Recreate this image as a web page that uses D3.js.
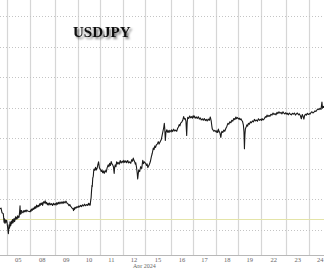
<!DOCTYPE html>
<html>
<head>
<meta charset="utf-8">
<script src="https://cdn.jsdelivr.net/npm/d3@7"></script>
<style>
  body { margin: 0; background: #fff; }
</style>
</head>
<body>
<div id="chart"></div>
<script>
// trading days shown on the axis (weekends removed)
const days = ["2024-04-04", "2024-04-05", "2024-04-08", "2024-04-09", "2024-04-10",
    "2024-04-11", "2024-04-12", "2024-04-15", "2024-04-16", "2024-04-17",
    "2024-04-18", "2024-04-19", "2024-04-22", "2024-04-23", "2024-04-24"];
const priceTicks = [151, 152, 153, 154, 155, 156, 157, 158];
const refLevel = 151.35;
const title = "USDJPY";
const monthLabel = "Apr 2024";

// [day, trading hour within the day, price]
const series = [
    ["04", 16.5, 151.68], ["04", 17.6, 151.70], ["04", 18.6, 151.55], ["04", 20, 151.52], ["04", 20.8, 151.24],
    ["04", 21.3, 151.35], ["04", 21.8, 151.20], ["04", 22.4, 151.31], ["04", 22.9, 151.24], ["04", 23.5, 151.30],
    ["05", 0, 151.22], ["05", 0.7, 151.05], ["05", 1.4, 150.86], ["05", 2.1, 151.15], ["05", 2.6, 151.04],
    ["05", 3.2, 151.25], ["05", 3.8, 151.12], ["05", 4.3, 151.18], ["05", 4.8, 151.28], ["05", 5.3, 151.20],
    ["05", 5.9, 151.33], ["05", 6.4, 151.22], ["05", 6.9, 151.30], ["05", 7.4, 151.36], ["05", 8, 151.26],
    ["05", 8.5, 151.32], ["05", 9.1, 151.42], ["05", 9.6, 151.34], ["05", 10.1, 151.40], ["05", 10.6, 151.35],
    ["05", 11.2, 151.45], ["05", 11.7, 151.38], ["05", 12.3, 151.44], ["05", 12.8, 151.40], ["05", 13.4, 151.60],
    ["05", 13.8, 151.78], ["05", 14.2, 151.50], ["05", 14.6, 151.62], ["05", 15, 151.52], ["05", 15.4, 151.62],
    ["05", 16.2, 151.57], ["05", 17, 151.55], ["05", 17.8, 151.62], ["05", 18.6, 151.58], ["05", 19.4, 151.63],
    ["05", 20.2, 151.58], ["05", 21, 151.64], ["05", 21.8, 151.61],
    ["08", 0.5, 151.58], ["08", 1.1, 151.64], ["08", 1.6, 151.60], ["08", 2.1, 151.67], ["08", 2.9, 151.63],
    ["08", 3.7, 151.70], ["08", 4.5, 151.66], ["08", 5.3, 151.74], ["08", 5.9, 151.69], ["08", 6.4, 151.75],
    ["08", 6.9, 151.71], ["08", 7.4, 151.80], ["08", 8.2, 151.74], ["08", 9, 151.79], ["08", 9.8, 151.75],
    ["08", 10.6, 151.84], ["08", 11.2, 151.79], ["08", 11.9, 151.86], ["08", 12.8, 151.82], ["08", 13.3, 151.88],
    ["08", 13.8, 151.79], ["08", 14.4, 151.86], ["08", 14.9, 151.91], ["08", 15.7, 151.87], ["08", 16.5, 151.94],
    ["08", 17.3, 151.85], ["08", 18.1, 151.89], ["08", 18.9, 151.81], ["08", 19.7, 151.86], ["08", 20.5, 151.80],
    ["08", 21.3, 151.87], ["08", 22.3, 151.81], ["08", 23.4, 151.85], ["08", 24.4, 151.79], ["08", 25.5, 151.86],
    ["08", 26.3, 151.81],
    ["09", 0.5, 151.85], ["09", 1.1, 151.80], ["09", 1.9, 151.88], ["09", 2.7, 151.83], ["09", 3.5, 151.89],
    ["09", 4.3, 151.84], ["09", 5.3, 151.90], ["09", 6.4, 151.85], ["09", 7.4, 151.91], ["09", 8.5, 151.85],
    ["09", 9.5, 151.92], ["09", 10.6, 151.87], ["09", 11.7, 151.93], ["09", 12.8, 151.86], ["09", 13.8, 151.84],
    ["09", 14.9, 151.78], ["09", 15.7, 151.82], ["09", 16.5, 151.76], ["09", 17.3, 151.74], ["09", 18.1, 151.70],
    ["09", 19.1, 151.68], ["09", 19.7, 151.62], ["09", 20.2, 151.70], ["09", 20.8, 151.66], ["09", 21.3, 151.73],
    ["09", 22.3, 151.70], ["09", 23.4, 151.75],
    ["10", 0.5, 151.72], ["10", 1.1, 151.77], ["10", 2.1, 151.74], ["10", 3.2, 151.79], ["10", 4.2, 151.75],
    ["10", 5.3, 151.81], ["10", 6.4, 151.77], ["10", 7.4, 151.83], ["10", 8.5, 151.78], ["10", 9.6, 151.82],
    ["10", 10.6, 151.79], ["10", 11.7, 151.86], ["10", 12.3, 151.80], ["10", 12.8, 151.84], ["10", 13.4, 151.80],
    ["10", 13.8, 151.92], ["10", 14.4, 152.05], ["10", 14.9, 152.30], ["10", 15.3, 152.45], ["10", 15.6, 152.40],
    ["10", 16.1, 152.68], ["10", 16.7, 152.75], ["10", 17.1, 152.92], ["10", 17.5, 152.98], ["10", 18.3, 152.94],
    ["10", 19.1, 153.04], ["10", 19.9, 152.95], ["10", 20.7, 153.00], ["10", 21.5, 153.12], ["10", 22.3, 153.22],
    ["10", 23.2, 153.02],
    ["11", 0.5, 152.96], ["11", 1.1, 152.90], ["11", 1.9, 152.95], ["11", 2.7, 152.86], ["11", 3.5, 152.92],
    ["11", 4.3, 152.84], ["11", 5.3, 152.93], ["11", 6.4, 152.88], ["11", 7.4, 153.02], ["11", 8.5, 153.12],
    ["11", 9.3, 153.06], ["11", 10.1, 153.17], ["11", 10.9, 153.10], ["11", 11.7, 153.23], ["11", 12.5, 153.15],
    ["11", 13.3, 153.12], ["11", 14.1, 153.06], ["11", 14.9, 152.84], ["11", 15.4, 153.04], ["11", 16, 153.12],
    ["11", 16.8, 153.06], ["11", 17.5, 153.22], ["11", 18.3, 153.15], ["11", 19.1, 153.20], ["11", 20.2, 153.14],
    ["11", 21.3, 153.26], ["11", 22.3, 153.18], ["11", 23.4, 153.24],
    ["12", 0.5, 153.19], ["12", 1.1, 153.27], ["12", 2.1, 153.20], ["12", 3.2, 153.25], ["12", 4.2, 153.19],
    ["12", 5.3, 153.26], ["12", 6.4, 153.18], ["12", 7.4, 153.22], ["12", 8.5, 153.17], ["12", 9.6, 153.29],
    ["12", 10.4, 153.24], ["12", 11.2, 153.34], ["12", 12, 153.26], ["12", 12.8, 153.21], ["12", 13.4, 153.14],
    ["12", 13.8, 153.19], ["12", 14.6, 153.05], ["12", 15.4, 152.85], ["12", 15.9, 152.66], ["12", 16.5, 152.82],
    ["12", 17, 152.95], ["12", 18, 152.90], ["12", 19.1, 153.06], ["12", 20.2, 153.00], ["12", 21.3, 153.27],
    ["12", 22.1, 153.16], ["12", 22.9, 153.22],
    ["15", 0.5, 153.16], ["15", 1.1, 153.10], ["15", 1.9, 153.15], ["15", 2.7, 153.03], ["15", 3.5, 153.08],
    ["15", 4.3, 153.13], ["15", 5.3, 153.22], ["15", 6.4, 153.38], ["15", 7.4, 153.50], ["15", 8.5, 153.67],
    ["15", 9.3, 153.62], ["15", 10.1, 153.74], ["15", 10.9, 153.69], ["15", 11.7, 153.77], ["15", 12.7, 153.80],
    ["15", 13.8, 153.88], ["15", 14.6, 153.80], ["15", 15.4, 153.85], ["15", 16.2, 153.90], ["15", 17, 153.95],
    ["15", 18, 154.10], ["15", 19.1, 154.27], ["15", 19.7, 154.36], ["15", 20.2, 154.48], ["15", 20.7, 154.30],
    ["15", 21.3, 153.92], ["15", 21.9, 154.18], ["15", 22.9, 154.27], ["15", 23.6, 154.19], ["15", 24.4, 154.24],
    ["15", 25.2, 154.18], ["15", 26, 154.25],
    ["16", 0.5, 154.20], ["16", 1.1, 154.27], ["16", 2.1, 154.21], ["16", 3.2, 154.29], ["16", 4.2, 154.23],
    ["16", 5.3, 154.26], ["16", 6.4, 154.22], ["16", 7.4, 154.32], ["16", 8.2, 154.36], ["16", 9, 154.44],
    ["16", 9.8, 154.40], ["16", 10.6, 154.49], ["16", 11.7, 154.52], ["16", 12.8, 154.58], ["16", 13.3, 154.64],
    ["16", 13.8, 154.70], ["16", 14.6, 154.62], ["16", 15.4, 154.64], ["16", 16.2, 154.55], ["16", 17, 154.08],
    ["16", 17.5, 154.50], ["16", 18.1, 154.68], ["16", 19.1, 154.64], ["16", 20.2, 154.72], ["16", 21.2, 154.66],
    ["16", 22.3, 154.70], ["16", 23.1, 154.65], ["16", 23.9, 154.73],
    ["17", 0.5, 154.68], ["17", 1.1, 154.72], ["17", 2.1, 154.65], ["17", 3.2, 154.69], ["17", 4.2, 154.64],
    ["17", 5.3, 154.70], ["17", 6.4, 154.62], ["17", 7.4, 154.66], ["17", 8.5, 154.59], ["17", 9.6, 154.63],
    ["17", 10.6, 154.58], ["17", 11.7, 154.64], ["17", 12.8, 154.57], ["17", 13.8, 154.61], ["17", 14.8, 154.56],
    ["17", 15.9, 154.62], ["17", 17, 154.58], ["17", 18.1, 154.69], ["17", 18.6, 154.62], ["17", 19.1, 154.55],
    ["17", 19.7, 154.40], ["17", 20.2, 154.30], ["17", 21, 154.26], ["17", 21.8, 154.22], ["17", 22.9, 154.25],
    ["18", 0.5, 154.19], ["18", 1.1, 154.24], ["18", 1.9, 154.18], ["18", 2.7, 154.29], ["18", 3.5, 154.21],
    ["18", 4.3, 154.17], ["18", 5.3, 154.02], ["18", 5.9, 154.15], ["18", 6.4, 154.22], ["18", 7.4, 154.18],
    ["18", 8.5, 154.26], ["18", 9.5, 154.22], ["18", 10.6, 154.31], ["18", 11.7, 154.38], ["18", 12.8, 154.48],
    ["18", 13.8, 154.45], ["18", 14.9, 154.53], ["18", 16, 154.50], ["18", 17, 154.58], ["18", 18, 154.55],
    ["18", 19.1, 154.64], ["18", 20.2, 154.60], ["18", 21.3, 154.69], ["18", 22.1, 154.63], ["18", 22.9, 154.67],
    ["19", 0.5, 154.62], ["19", 1.1, 154.65], ["19", 1.9, 154.60], ["19", 2.7, 154.63], ["19", 3.5, 154.58],
    ["19", 4.3, 154.55], ["19", 5.3, 154.42], ["19", 5.9, 154.20], ["19", 6.4, 153.65], ["19", 6.9, 154.10],
    ["19", 7.4, 154.30], ["19", 8.2, 154.36], ["19", 9, 154.43], ["19", 9.8, 154.39], ["19", 10.6, 154.48],
    ["19", 11.7, 154.45], ["19", 12.8, 154.53], ["19", 13.8, 154.50], ["19", 14.9, 154.56], ["19", 16, 154.53],
    ["19", 17, 154.61], ["19", 18, 154.56], ["19", 19.1, 154.59], ["19", 20.2, 154.55], ["19", 21.3, 154.63],
    ["19", 22.3, 154.58], ["19", 23.4, 154.61],
    ["22", 0.5, 154.58], ["22", 1.1, 154.64], ["22", 2.1, 154.59], ["22", 3.2, 154.62], ["22", 4, 154.66],
    ["22", 4.8, 154.70], ["22", 5.6, 154.68], ["22", 6.4, 154.75], ["22", 7.4, 154.70], ["22", 8.5, 154.74],
    ["22", 9.5, 154.71], ["22", 10.6, 154.78], ["22", 11.7, 154.75], ["22", 12.8, 154.82], ["22", 13.8, 154.77],
    ["22", 14.9, 154.80], ["22", 16, 154.76], ["22", 17, 154.84], ["22", 18, 154.80], ["22", 19.1, 154.86],
    ["22", 20.2, 154.81], ["22", 21.3, 154.84], ["22", 22.3, 154.79], ["22", 23.4, 154.86], ["22", 24.4, 154.81],
    ["22", 25.5, 154.79], ["22", 26.3, 154.83],
    ["23", 0.5, 154.78], ["23", 1.1, 154.81], ["23", 2.1, 154.76], ["23", 3.2, 154.82], ["23", 4.2, 154.78],
    ["23", 5.3, 154.76], ["23", 6.4, 154.81], ["23", 7.4, 154.78], ["23", 8.5, 154.82], ["23", 9.6, 154.75],
    ["23", 10.6, 154.79], ["23", 11.7, 154.82], ["23", 12.8, 154.76], ["23", 13.8, 154.79], ["23", 14.9, 154.73],
    ["23", 15.9, 154.63], ["23", 16.4, 154.72], ["23", 17, 154.77], ["23", 17.8, 154.70], ["23", 18.6, 154.62],
    ["23", 19.4, 154.74], ["23", 20.2, 154.78], ["23", 21.2, 154.75], ["23", 22.3, 154.81], ["23", 23.3, 154.77],
    ["24", 0.5, 154.80], ["24", 1.1, 154.78], ["24", 2.1, 154.83], ["24", 3.2, 154.86], ["24", 4.2, 154.82],
    ["24", 5.3, 154.85], ["24", 6.4, 154.89], ["24", 7.4, 154.87], ["24", 8.5, 154.92], ["24", 9.6, 154.95],
    ["24", 10.6, 154.93], ["24", 11.7, 154.97], ["24", 12.8, 154.94], ["24", 13.4, 155.08], ["24", 13.8, 155.18],
    ["24", 14.4, 154.98], ["24", 14.9, 155.03], ["24", 15.5, 155.00], ["24", 15.9, 155.05]
];

const width = 324, height = 268, axisY = 255;

// mondays carry the sunday evening session, so they are a bit longer
let dayLen = days.map(d => new Date(d + "T00:00:00Z").getUTCDay() === 1 ? 27 : 24);
let dayStart = [];
dayLen.reduce((acc, l, i) => { dayStart[i] = acc; return acc + l; }, 0);
let dayIdx = {};
days.forEach((d, i) => dayIdx[d.slice(8, 10)] = i);
const tOf = (day, h) => dayStart[dayIdx[day]] + h;

const x = d3.scaleLinear()
    .domain([tOf("04", 16.5), tOf("24", 16)])
    .range([0, width]);

const y = d3.scaleLinear()
    .domain([150, 158])
    .range([260, 16]);

const svg = d3.select("#chart")
    .append("svg")
    .attr("width", width)
    .attr("height", height)
    .style("font-family", "'DejaVu Sans', sans-serif");

const defs = svg.append("defs");
defs.append("filter")
    .attr("id", "shadow")
    .attr("x", "-10%").attr("y", "-30%")
    .attr("width", "130%").attr("height", "170%")
    .append("feDropShadow")
    .attr("dx", 2)
    .attr("dy", 2)
    .attr("stdDeviation", 1)
    .attr("flood-color", "#000")
    .attr("flood-opacity", 0.55);

// vertical day gridlines
svg.append("g")
    .selectAll("line")
    .data(days.slice(1))
    .join("line")
    .attr("x1", (d, i) => Math.round(x(dayStart[i + 1])) + 0.5)
    .attr("x2", (d, i) => Math.round(x(dayStart[i + 1])) + 0.5)
    .attr("y1", 0)
    .attr("y2", axisY)
    .attr("stroke", "#d6d6d6")
    .attr("stroke-width", 1.2);

// horizontal dotted gridlines
svg.append("g")
    .selectAll("line")
    .data(priceTicks)
    .join("line")
    .attr("x1", 0)
    .attr("x2", width)
    .attr("y1", d => Math.round(y(d)) + 0.5)
    .attr("y2", d => Math.round(y(d)) + 0.5)
    .attr("stroke", "#c4c4c4")
    .attr("stroke-dasharray", "1,2");

// reference level
svg.append("line")
    .attr("x1", 0)
    .attr("x2", width)
    .attr("y1", Math.round(y(refLevel)) + 0.5)
    .attr("y2", Math.round(y(refLevel)) + 0.5)
    .attr("stroke", "#e4e4a8")
    .attr("stroke-width", 1.2);

// x axis
svg.append("line")
    .attr("x1", 0)
    .attr("x2", width)
    .attr("y1", axisY + 0.5)
    .attr("y2", axisY + 0.5)
    .attr("stroke", "#b8b8b8");

svg.append("g")
    .selectAll("text")
    .data(days.slice(1))
    .join("text")
    .attr("x", (d, i) => x(dayStart[i + 1] + dayLen[i + 1] / 2))
    .attr("y", 261.5)
    .attr("text-anchor", "middle")
    .style("font-family", "'Liberation Serif', serif")
    .style("font-size", "6.5px")
    .style("fill", "#666")
    .text(d => d.slice(8, 10));

svg.append("text")
    .attr("x", x(tOf("15", 0)) - 1)
    .attr("y", 267.5)
    .attr("text-anchor", "middle")
    .style("font-family", "'Liberation Serif', serif")
    .style("font-size", "6px")
    .style("fill", "#666")
    .text(monthLabel);

// price line
const line = d3.line()
    .x(d => x(tOf(d[0], d[1])))
    .y(d => y(d[2]));

svg.append("path")
    .datum(series)
    .attr("d", line)
    .attr("fill", "none")
    .attr("stroke", "#1a1a1a")
    .attr("stroke-width", 1.1)
    .attr("stroke-linejoin", "round");

// title with soft shadow
svg.append("text")
    .attr("x", 73)
    .attr("y", 37)
    .attr("filter", "url(#shadow)")
    .style("font-family", "'Liberation Serif', serif")
    .style("font-weight", "bold")
    .style("font-size", "15px")
    .style("fill", "#111")
    .text(title);
</script>
</body>
</html>
